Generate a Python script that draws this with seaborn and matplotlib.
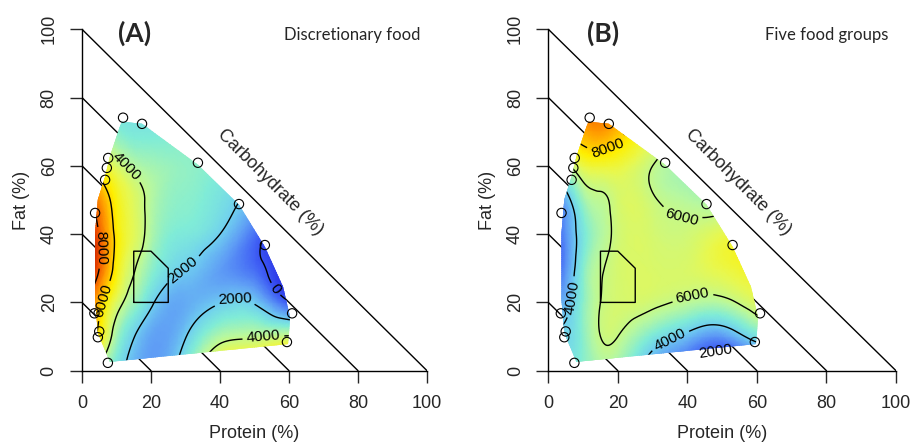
import numpy as np
import matplotlib
matplotlib.use('Agg')
import matplotlib.pyplot as plt
import matplotlib.tri as mtri
from matplotlib.colors import LinearSegmentedColormap
from matplotlib.patches import Polygon
import seaborn as sns

# grid of the response surface (protein %, fat %), energy values
protein_grid = [0, 5, 10, 15, 20, 30, 40, 50, 60, 70]
fat_grid = [0, 10, 20, 30, 40, 50, 60, 70, 80]

energy_discretionary = [
    [5500, 3500, 2400, 1500, 1200, 2800, 5500, 6200, 6500, 6500],
    [7500, 5600, 3400, 2050, 1300, 1950, 3600, 3900, 4100, 4200],
    [8800, 6400, 4500, 3300, 2200, 1400, 1950, 1900, 100, -300],
    [9800, 8000, 5500, 4100, 3100, 2000, 1200, 400, -900, -1200],
    [9300, 8000, 5700, 4600, 3600, 2700, 2000, 500, -700, -900],
    [8200, 7200, 5400, 4500, 3700, 3000, 2500, 1600, 600, 0],
    [6300, 5300, 4400, 3700, 3400, 3100, 2800, 2200, 1500, 1000],
    [4500, 3800, 3000, 2700, 2700, 2900, 2800, 2500, 2000, 1500],
    [4000, 3300, 2700, 2500, 2500, 2700, 2700, 2500, 2000, 1500],
]

energy_five_groups = [
    [5000, 4600, 5000, 5400, 5300, 3000, 1800, 600, 800, 1200],
    [4300, 4200, 5000, 6000, 6000, 4700, 3700, 3100, 4500, 4500],
    [3300, 3600, 5000, 6000, 6300, 6200, 5800, 5700, 6500, 6500],
    [2000, 3000, 4900, 5900, 6300, 6400, 6400, 6800, 7300, 7500],
    [1800, 3000, 4600, 5600, 6200, 6300, 6200, 6700, 7200, 7500],
    [2800, 3500, 5300, 5850, 6300, 6100, 5700, 5400, 5500, 5500],
    [5200, 5700, 6800, 7000, 6900, 6000, 5300, 5000, 5000, 5000],
    [7800, 8200, 8700, 9000, 8400, 7000, 5800, 5200, 5000, 5000],
    [9000, 9500, 9800, 10000, 9500, 7800, 6200, 5500, 5000, 5000],
]

# outline of the sampled diets
hull_protein = [11.6, 17.4, 33.6, 45.5, 53.0, 58.3, 60.3, 60.0, 59.7, 8.1,
                4.6, 3.8, 3.8, 4.6, 6.7, 8.1, 11.0]
hull_fat = [72.9, 72.3, 60.3, 48.6, 36.3, 24.5, 15.7, 11.1, 7.8, 2.6,
            11.1, 20.7, 40.4, 50.1, 56.8, 62.7, 71.5]

# observed diets on the edge
obs_protein = [11.9, 17.4, 33.6, 45.5, 53.0, 60.9, 59.4, 7.5, 4.6, 5.0,
               3.6, 3.8, 6.7, 7.2, 7.6]
obs_fat = [74.1, 72.3, 60.9, 48.8, 36.8, 16.8, 8.4, 2.3, 9.8, 11.5,
           16.8, 46.2, 55.9, 59.4, 62.3]

# recommended macronutrient ranges
amdr_protein = [15, 15, 20, 25, 25]
amdr_fat = [20, 35, 35, 30, 20]

ticks = [0, 20, 40, 60, 80, 100]

cmap = LinearSegmentedColormap.from_list('energy', [
    (0.00, '#2020e0'), (0.12, '#4060f5'), (0.22, '#60a0f5'),
    (0.30, '#70d0f0'), (0.38, '#80ecd8'), (0.47, '#b8f8a0'),
    (0.57, '#e8f850'), (0.66, '#fff000'), (0.80, '#ff9a00'),
    (0.92, '#f05000'), (1.00, '#c82000')])

sns.set_style('ticks')
plt.rcParams['font.family'] = ['Liberation Sans', 'DejaVu Sans']

fig = plt.figure(figsize=(9.14, 4.44), dpi=100)
ax_a = fig.add_axes([0.0897, 0.1651, 0.3775, 0.769])
ax_b = fig.add_axes([0.5999, 0.1651, 0.3804, 0.769])


def draw_panel(ax, energy, vmin, vmax, levels, label_pos):
    P, F = np.meshgrid(protein_grid, fat_grid)
    z = np.array(energy, dtype=float).ravel()
    tri = mtri.Triangulation(P.ravel(), F.ravel())
    interp = mtri.CubicTriInterpolator(tri, z)
    tri_f, z_f = mtri.UniformTriRefiner(tri).refine_field(z, triinterpolator=interp, subdiv=4)

    for c in ticks[1:]:
        ax.plot([0, c], [c, 0], color='black', lw=1.0, zorder=0.5)

    hull = Polygon(np.column_stack([hull_protein, hull_fat]), closed=True,
                   fc='none', ec='none')
    ax.add_patch(hull)
    mesh = ax.tripcolor(tri_f, z_f, shading='gouraud', cmap=cmap, vmin=vmin, vmax=vmax,
                        zorder=1)
    mesh.set_clip_path(hull)
    cs = ax.tricontour(tri_f, z_f, levels=levels, colors='black', linewidths=1.0, zorder=2)
    cs.set_clip_path(hull)
    ax.clabel(cs, fmt='%d', fontsize=11, inline=True, inline_spacing=3, manual=label_pos)

    ax.plot(amdr_protein + amdr_protein[:1], amdr_fat + amdr_fat[:1], color='black', lw=1.0,
            zorder=3)
    sns.scatterplot(x=obs_protein, y=obs_fat, ax=ax, s=45, facecolor='none',
                    edgecolor='black', linewidth=0.8, clip_on=False, zorder=5)

    ax.text(54.5, 55.3, 'Carbohydrate (%)', rotation=-45, ha='center', va='center',
            rotation_mode='anchor', fontsize=13)

    ax.set_xlim(0, 100)
    ax.set_ylim(0, 100)
    ax.set_xticks(ticks)
    ax.set_yticks(ticks)
    ax.tick_params(length=8.5, width=1, labelsize=13, pad=9)
    plt.setp(ax.get_yticklabels(), rotation=90, va='center')
    ax.set_xlabel('Protein (%)', fontsize=13, labelpad=9)
    ax.set_ylabel('Fat (%)', fontsize=13, labelpad=8)
    sns.despine(ax=ax)
    for side in ['left', 'bottom']:
        ax.spines[side].set_linewidth(1.0)
        ax.spines[side].set_color('black')


draw_panel(ax_a, energy_discretionary, -1000, 9000, [0, 2000, 4000, 6000, 8000],
           [(4.3, 36), (5.5, 20.7), (13, 60), (28.4, 31), (44.3, 20.1), (52.5, 10.4), (56.5, 24.2)])
draw_panel(ax_b, energy_five_groups, 1000, 11000, [2000, 4000, 6000, 8000],
           [(16.9, 65.6), (38.3, 45.1), (41.3, 22.7), (6.5, 21.6), (35, 9), (48, 7)])

fig.text(135 / 914, 1 - 33 / 444, '(A)', fontsize=19, fontweight='bold',
         ha='center', va='center', family=['Lato', 'DejaVu Sans'])
fig.text(352 / 914, 1 - 35 / 444, 'Discretionary food', fontsize=12,
         ha='center', va='center', family=['Lato', 'DejaVu Sans'])
fig.text(603 / 914, 1 - 33 / 444, '(B)', fontsize=19, fontweight='bold',
         ha='center', va='center', family=['Lato', 'DejaVu Sans'])
fig.text(827 / 914, 1 - 35 / 444, 'Five food groups', fontsize=12,
         ha='center', va='center', family=['Lato', 'DejaVu Sans'])

fig.savefig('out.png', dpi=100)
